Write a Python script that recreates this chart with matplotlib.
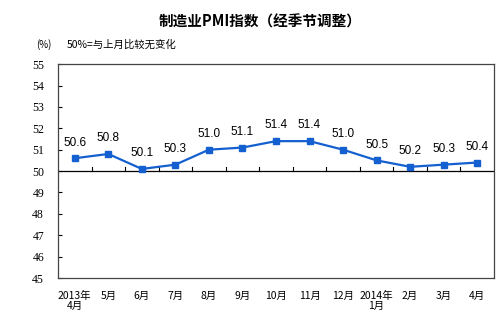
import numpy as np
import matplotlib.pyplot as plt

plt.rcParams['font.family'] = ['Noto Sans CJK SC', 'DejaVu Sans']

months = ['2013年\n4月', '5月', '6月', '7月', '8月', '9月', '10月', '11月',
          '12月', '2014年\n1月', '2月', '3月', '4月']
pmi = [50.6, 50.8, 50.1, 50.3, 51.0, 51.1, 51.4, 51.4, 51.0, 50.5, 50.2, 50.3, 50.4]
yticks = list(range(45, 56))

fig = plt.figure(figsize=(5, 3.29), dpi=100)
ax = fig.add_axes([0.116, 0.155, 0.872, 0.65])

x = np.arange(len(pmi))
ax.plot(x, pmi, color='#1560d0', lw=1.6, marker='s', ms=4.5, zorder=3)
for xi, v in zip(x, pmi):
    ax.annotate(f'{v:.1f}', (xi, v), xytext=(0, 7), textcoords='offset points',
                ha='center', va='bottom', fontsize=8.5, family='Liberation Sans')

# baseline at 50 with upward tick marks between months
ax.axhline(50, color='black', lw=0.9, zorder=2)
for b in np.arange(0.5, len(pmi) - 1, 1.0):
    ax.plot([b, b], [50, 50.2], color='black', lw=0.8)

ax.set_xlim(-0.5, len(pmi) - 0.5)
ax.set_ylim(45, 55)
ax.set_yticks(yticks)
ax.set_yticklabels([str(t) for t in yticks], family='Liberation Serif', fontsize=8.5)
ax.tick_params(axis='y', direction='in', length=3, width=0.8, pad=10)
ax.set_xticks(x)
ax.set_xticklabels(months, fontsize=7.5, linespacing=1.1)
ax.tick_params(axis='x', length=0, pad=9)
for s in ax.spines.values():
    s.set_linewidth(0.9)
    s.set_color('#444444')

fig.text(0.52, 0.935, '制造业PMI指数（经季节调整）', ha='center', va='center',
         fontsize=10.5, fontweight='bold')
fig.text(0.072, 0.865, '(%)', ha='left', va='center', fontsize=7)
fig.text(0.134, 0.865, '50%=与上月比较无变化', ha='left', va='center', fontsize=7.5)

fig.savefig('out.png', dpi=100, facecolor='white')
